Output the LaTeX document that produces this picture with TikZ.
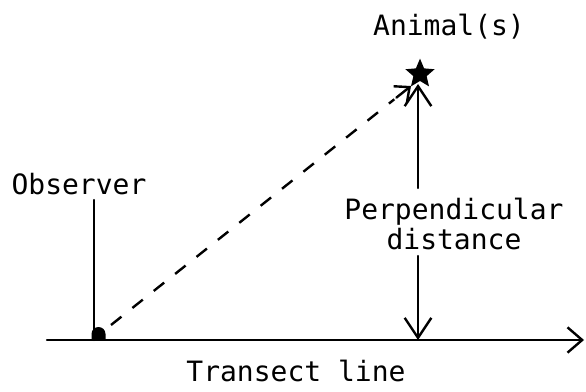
\documentclass[tikz,border=0pt]{standalone}
\usepackage{fontspec}
\setmonofont{DejaVu Sans Mono}
\usetikzlibrary{arrows.meta,shapes.geometric,calc}
\tikzset{
  lbl/.style={font=\ttfamily\fontsize{21}{23}\selectfont, inner sep=0pt, align=center},
  ln/.style={line width=1.8pt, line cap=round},
  barb/.style={-{Straight Barb[length=15pt,width=20pt,line width=1.8pt]}},
  dsh/.style={dash pattern=on 10pt off 10.5pt, line cap=butt}
}
\begin{document}
\begin{tikzpicture}[x=0.75pt,y=-0.75pt]
\useasboundingbox (0,0) rectangle (586,392);
% labels
\node[lbl] (anim) at (449,27) {Animal(s)};
\node[lbl] (obs) at (79,184) {Observer};
\node[lbl] (perp) at (454,224) {Perpendicular\\distance};
\node[lbl] (tl) at (296,371) {Transect line};
% key points
\coordinate (tstart) at (47,340);
\coordinate (tend) at (584,340);
\coordinate (obstop) at (94,200);
\coordinate (obsfoot) at (94,340);
\coordinate (dot) at (98.5,340);
\coordinate (pt) at (418,188);
\coordinate (pb) at (418,256);
\coordinate (foot) at (418,340);
\coordinate (dstart) at (111,325);
\coordinate (dend) at (411,86);
\coordinate (ptop) at (418,84);
% star
\node[star, star points=5, star point ratio=2.2, fill=black, inner sep=0pt, minimum size=23pt] (star) at (420,74) {};
% transect
\draw[ln, -{Straight Barb[length=11pt,width=19pt,line width=1.8pt]}] (tstart) -- (tend);
% observer
\draw[ln] (obstop) -- (obsfoot);
\fill (dot) ++(-7,0) -- ++(0,-6) arc[start angle=180, end angle=360, radius=7] -- ++(0,6) -- cycle;
% dashed sighting line
\draw[ln, dsh] (dstart) -- ($(dend)!16pt!(dstart)$);
\draw[ln, -{Straight Barb[length=9pt,width=16pt,line width=1.8pt]}] ($(dend)!14pt!(dstart)$) -- (dend);
% perpendicular distance
\draw[ln, barb] (pt) -- (ptop);
\draw[ln, barb] (pb) -- (foot);
\end{tikzpicture}
\end{document}
